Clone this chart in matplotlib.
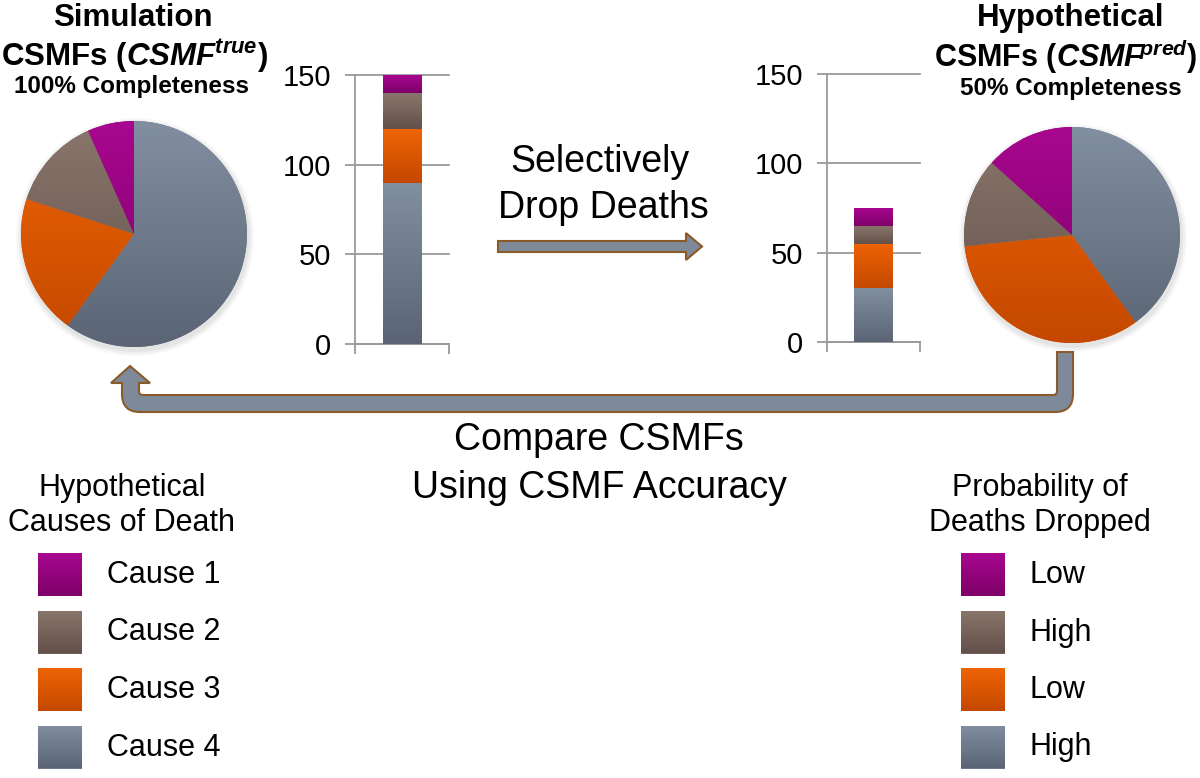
import numpy as np
import matplotlib
matplotlib.use('Agg')
import matplotlib.pyplot as plt
from matplotlib.colors import LinearSegmentedColormap
from matplotlib.patches import Rectangle, PathPatch, Circle
from matplotlib.path import Path

plt.rcParams['font.family'] = ['Liberation Sans', 'DejaVu Sans']
plt.rcParams['mathtext.fontset'] = 'custom'
plt.rcParams['mathtext.bfit'] = 'Liberation Sans:bold:italic'
plt.rcParams['mathtext.it'] = 'Liberation Sans:italic'

# data
causes = ['Cause 1', 'Cause 2', 'Cause 3', 'Cause 4']
true_counts = [10, 20, 30, 90]
pred_counts = [10, 10, 25, 30]
drop_prob = ['Low', 'High', 'Low', 'High']

# (top, bottom) gradient colours per cause
top_colors = ['#a8078f', '#8a766c', '#ee6404', '#828fa0']
bottom_colors = ['#7d0068', '#62504a', '#c44800', '#5a6474']
mid_colors = ['#93007c', '#76635b', '#dc5600', '#6f7b8b']

GRID = '#9a9a9a'
ARROW_FILL = '#7e8a99'
ARROW_EDGE = '#8a5a28'

W, H = 1200, 778
fig = plt.figure(figsize=(12, 7.78), dpi=100)

# canvas in pixel coordinates for text and arrows
canvas = fig.add_axes([0, 0, 1, 1])
canvas.set_xlim(0, W)
canvas.set_ylim(H, 0)
canvas.set_autoscale_on(False)
canvas.axis('off')


def px_axes(x0, y0, x1, y1):
    return fig.add_axes([x0 / W, 1 - y1 / H, (x1 - x0) / W, (y1 - y0) / H])


def gradient(ax, patch, top, bottom, extent):
    cmap = LinearSegmentedColormap.from_list('g', [bottom, top])
    grad = np.linspace(0, 1, 256).reshape(-1, 1)
    im = ax.imshow(grad, cmap=cmap, extent=extent, origin='lower',
                   aspect='auto', zorder=patch.get_zorder() + 0.1,
                   interpolation='bilinear')
    im.set_clip_path(patch)


def stacked_bar(ax, counts):
    bottom = 0
    # stack from cause 4 at the bottom up to cause 1
    for i in reversed(range(len(counts))):
        rect = ax.bar(0, counts[i], width=0.41, bottom=bottom,
                      color=mid_colors[i], linewidth=0, zorder=3)[0]
        gradient(ax, rect, top_colors[i], bottom_colors[i],
                 (rect.get_x(), rect.get_x() + rect.get_width(),
                  bottom, bottom + counts[i]))
        bottom += counts[i]
    ax.set_xlim(-0.5, 0.5)
    ax.set_ylim(0, 150)
    ax.set_yticks([0, 50, 100, 150])
    ax.set_xticks([-0.5, 0.5])
    ax.set_xticklabels([])
    ax.patch.set_alpha(0)
    for s in ['top', 'right']:
        ax.spines[s].set_visible(False)
    for s in ['left', 'bottom']:
        ax.spines[s].set_color(GRID)
        ax.spines[s].set_linewidth(1.3)
    ax.tick_params(axis='both', colors=GRID, length=7, width=1.3)
    ax.tick_params(axis='y', labelsize=21, labelcolor='black', pad=10)
    ax.yaxis.grid(True, color=GRID, linewidth=1.3)
    ax.set_axisbelow(True)
    for gl in ax.get_ygridlines():
        gl.set_clip_on(False)


def pie(ax, counts):
    order = list(reversed(range(len(counts))))
    wedges, _ = ax.pie([counts[i] for i in order],
                       colors=[mid_colors[i] for i in order],
                       startangle=90, counterclock=False,
                       wedgeprops=dict(linewidth=0))
    for w, i in zip(wedges, order):
        gradient(ax, w, top_colors[i], bottom_colors[i], (-1, 1, -1, 1))
    ax.set_xlim(-1.04, 1.04)
    ax.set_ylim(-1.04, 1.04)
    ax.patch.set_alpha(0)


# soft shadows under the pies
for cx, cy, r in [(134, 234, 113), (1072, 235, 108)]:
    for k, a in zip([6, 4, 2], [0.05, 0.07, 0.09]):
        canvas.add_patch(Circle((cx + 1, cy + 3), r + k, color='#808080',
                                alpha=a, linewidth=0, zorder=0))

# pies
ax_pie1 = px_axes(134 - 117.5, 234 - 117.5, 134 + 117.5, 234 + 117.5)
pie(ax_pie1, true_counts)
ax_pie2 = px_axes(1072 - 112.3, 235 - 112.3, 1072 + 112.3, 235 + 112.3)
pie(ax_pie2, pred_counts)

# stacked bars
ax_bar1 = px_axes(355, 75, 449, 344)
stacked_bar(ax_bar1, true_counts)
ax_bar2 = px_axes(827, 74, 920, 342)
stacked_bar(ax_bar2, pred_counts)

# titles
canvas.text(133, 18, 'Simulation', ha='center', va='center',
            fontsize=22.5, fontweight='bold')
canvas.text(134, 56, r'CSMFs ($\mathbfit{CSMF}^{\mathbfit{true}}$)',
            ha='center', va='center', fontsize=22.5, fontweight='bold')
canvas.text(132, 86, '100% Completeness', ha='center', va='center',
            fontsize=17.5, fontweight='bold')
canvas.text(1071, 18, 'Hypothetical', ha='center', va='center',
            fontsize=22.5, fontweight='bold')
canvas.text(1197, 56, r'CSMFs ($\mathbfit{CSMF}^{\!\mathbfit{pred}}$)',
            ha='right', va='center', fontsize=22, fontweight='bold')
canvas.text(1071, 88, '50% Completeness', ha='center', va='center',
            fontsize=17.5, fontweight='bold')

# middle labels
canvas.text(600, 162, 'Selectively', ha='center', va='center', fontsize=27)
canvas.text(603, 208, 'Drop Deaths', ha='center', va='center', fontsize=27)
canvas.text(599, 440, 'Compare CSMFs', ha='center', va='center', fontsize=27)
canvas.text(599, 488, 'Using CSMF Accuracy', ha='center', va='center',
            fontsize=27)

# straight arrow
straight = [(498, 241), (686, 241), (686, 233), (702, 246.5), (686, 260),
            (686, 252), (498, 252), (498, 241)]
canvas.add_patch(PathPatch(Path(straight, closed=True), facecolor=ARROW_FILL,
                           edgecolor=ARROW_EDGE, linewidth=1.5, zorder=2))

# U-shaped return arrow
verts = [(1057, 352), (1057, 391), (1057, 395), (1053, 395),
         (143, 395), (139, 395), (139, 391),
         (139, 383), (150, 383), (130, 366), (111, 383), (122, 383),
         (122, 394), (122, 412), (140, 412),
         (1055, 412), (1073, 412), (1073, 394),
         (1073, 352), (1057, 352)]
codes = [Path.MOVETO, Path.LINETO, Path.CURVE3, Path.CURVE3,
         Path.LINETO, Path.CURVE3, Path.CURVE3,
         Path.LINETO, Path.LINETO, Path.LINETO, Path.LINETO, Path.LINETO,
         Path.LINETO, Path.CURVE3, Path.CURVE3,
         Path.LINETO, Path.CURVE3, Path.CURVE3,
         Path.LINETO, Path.CLOSEPOLY]
canvas.add_patch(PathPatch(Path(verts, codes), facecolor=ARROW_FILL,
                           edgecolor=ARROW_EDGE, linewidth=1.5, zorder=2))

# legends
def legend(x_box, x_text, x_title, title_lines, labels):
    canvas.text(x_title, 488, title_lines[0], ha='center', va='center',
                fontsize=22)
    canvas.text(x_title, 523, title_lines[1], ha='center', va='center',
                fontsize=22)
    for i, lab in enumerate(labels):
        y0 = 553 + i * 57.5
        sq = Rectangle((x_box, y0), 44, 43, facecolor=mid_colors[i],
                       linewidth=0, zorder=2)
        canvas.add_patch(sq)
        gradient(canvas, sq, top_colors[i], bottom_colors[i],
                 (x_box, x_box + 44, y0 + 43, y0))
        canvas.text(x_text, y0 + 22, lab, ha='left', va='center', fontsize=22)


legend(38, 107, 122, ['Hypothetical', 'Causes of Death'], causes)
legend(961, 1030, 1040, ['Probability of', 'Deaths Dropped'], drop_prob)

canvas.set_xlim(0, W)
canvas.set_ylim(H, 0)

fig.savefig('out.png', dpi=100)
